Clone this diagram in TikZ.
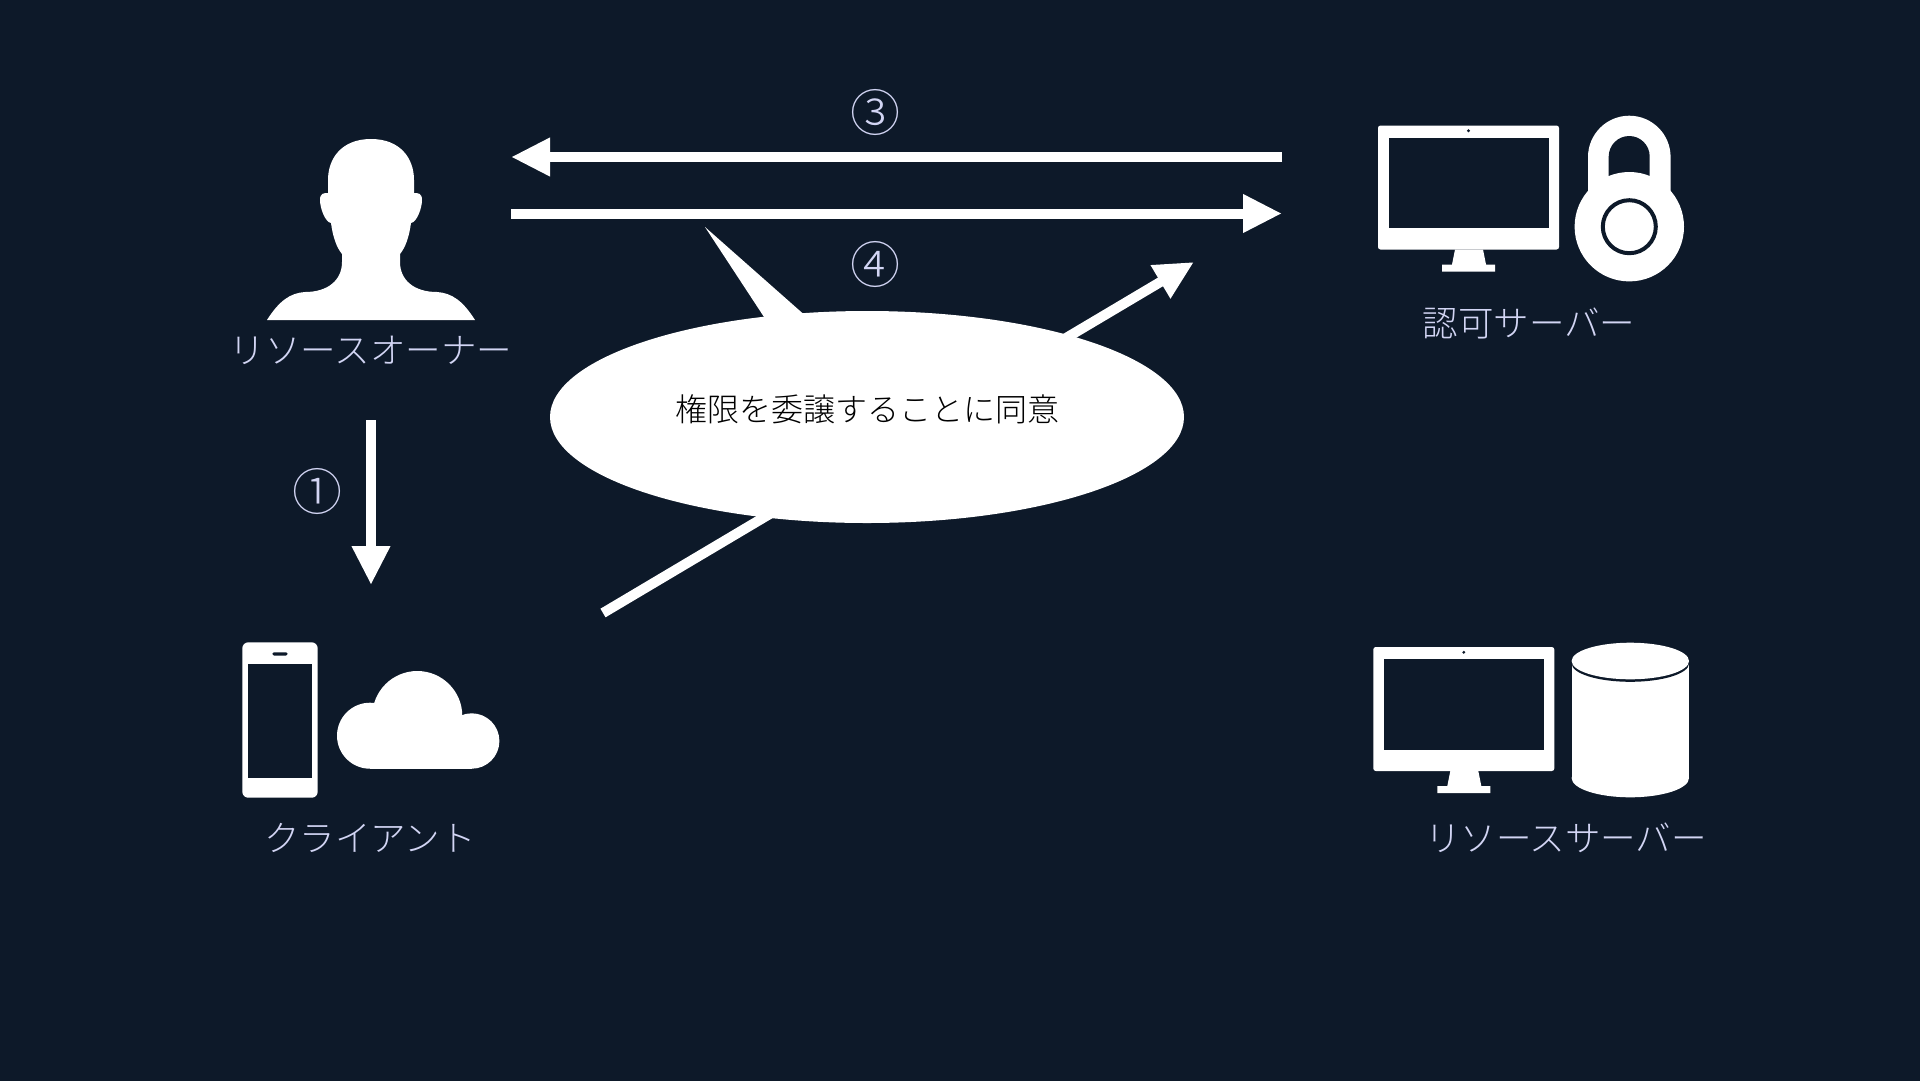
\documentclass[tikz,border=0pt]{standalone}
\usepackage{fontspec}
\usepackage{xcolor}
\usepackage{tikz}
\usetikzlibrary{positioning, arrows.meta, shapes.geometric}
\newfontfamily\jpfont[UprightFont=* Light]{Noto Sans CJK JP}
\definecolor{bgnavy}{HTML}{0D1929}
\definecolor{labelblue}{HTML}{D2D5F4}

\tikzset{
    monitor/.pic = {
        \fill[white, rounded corners=2.5pt] (0,0) rectangle (181,124);
        \fill[bgnavy] (11,12) rectangle (171,102.5);
        \fill[bgnavy] (90.5,5.3) circle (1.6);
        \fill[white] (77,124) -- (105,124) -- (108,139) -- (117,139) -- (117,146) -- (64,146) -- (64,139) -- (74,139) -- cycle;
    }
}

\begin{document}
\begin{tikzpicture}[
        x = 1pt,
        y = -1pt,
        every node/.style = {inner sep = 0, align = center, font = \jpfont},
        caption/.style = {text = labelblue, font = \jpfont\fontsize{35.5}{42}\selectfont},
        stepmark/.style = {text = labelblue, font = \jpfont\fontsize{50}{60}\selectfont},
        bubble/.style = {
            ellipse,
            fill = white,
            minimum width = 634pt,
            minimum height = 212pt,
            text = black,
            font = \jpfont\fontsize{32}{38}\selectfont
        },
        flow/.style = {
            white,
            line width = 10pt,
            -{Triangle[length=39pt, width=36pt]}
        }
    ]
        \useasboundingbox (0,0) rectangle (1920,1080);
        \fill[bgnavy] (-4,-4) rectangle (1924,1084);

        % resource owner
        \fill[white] (371,139)
            .. controls (342,139) and (328,158) .. (328,180) -- (328,193)
            .. controls (324,193) and (320,193) .. (320,200)
            .. controls (320,208) and (325,222) .. (331,223)
            .. controls (333,238) and (337,248) .. (342,254) -- (342,262)
            .. controls (342,280) and (328,292) .. (305,292)
            .. controls (290,293) and (279,301) .. (267,320)
            -- (475,320)
            .. controls (463,301) and (452,293) .. (437,292)
            .. controls (414,292) and (400,280) .. (400,262) -- (400,254)
            .. controls (405,248) and (409,238) .. (411,223)
            .. controls (417,222) and (422,208) .. (422,200)
            .. controls (422,193) and (418,193) .. (414,193) -- (414,180)
            .. controls (414,158) and (400,139) .. (371,139) -- cycle;
        \node[caption] (owner) at (371,350) {リソースオーナー};

        % authorization server
        \pic at (1378,125.5) {monitor};
        \fill[white] (1588,235) -- (1588,157) arc[start angle=180, end angle=360, radius=41.3] -- (1670.6,235) -- cycle;
        \fill[bgnavy] (1608.7,180) -- (1608.7,156.5) arc[start angle=180, end angle=360, radius=20.5] -- (1649.7,180) -- cycle;
        \fill[white] (1629.3,226.7) circle (54.7);
        \draw[bgnavy, line width=4pt] (1629.3,226.7) circle (26.5);
        \node[caption] (authsrv) at (1529,323) {認可サーバー};

        % client
        \fill[white, rounded corners=6pt] (242.3,642.3) rectangle (317.7,797.7);
        \fill[bgnavy] (247.7,663.7) rectangle (312.3,778.3);
        \fill[bgnavy, rounded corners=1.5pt] (272.3,652.3) rectangle (287.7,655.5);
        \fill[white] (417.3,716) circle (45);
        \fill[white] (370,735.7) circle (33);
        \fill[white] (471.7,741) circle (27.7);
        \fill[white] (370,720) rectangle (471.7,768.7);
        \node[caption] (client) at (370,837.5) {クライアント};

        % resource server
        \pic at (1373.3,647) {monitor};
        \fill[white] (1571.7,661) rectangle (1689,778);
        \fill[white] (1630.3,778) ellipse[x radius=58.7, y radius=19.3];
        \fill[bgnavy] (1630.3,663.5) ellipse[x radius=58.7, y radius=18.3];
        \fill[white] (1630.3,661) ellipse[x radius=58.7, y radius=18.3];
        \node[caption] (resource) at (1566,837.5) {リソースサーバー};

        % arrows
        \coordinate (a1s) at (371,420);
        \coordinate (a1e) at (371,585);
        \coordinate (a3s) at (1282,157);
        \coordinate (a3e) at (511,157);
        \coordinate (a4s) at (511,213.5);
        \coordinate (a4e) at (1282,213.5);
        \coordinate (a5s) at (603,613);
        \coordinate (a5e) at (1194,262);
        \draw[flow] (a1s) -- (a1e);
        \draw[flow] (a3s) -- (a3e);
        \draw[flow] (a4s) -- (a4e);
        \draw[flow] (a5s) -- (a5e);

        \node[stepmark] (mark1) at (317.5,491) {①};
        \node[stepmark] (mark3) at (875.5,112.5) {③};
        \node[stepmark] (mark4) at (875.5,264.5) {④};

        % speech bubble
        \coordinate (tailtip) at (705,227);
        \fill[white] (tailtip) -- (766,320) -- (808,318) -- cycle;
        \node[bubble] (consent) at (867,417) {\raisebox{-4pt}[0pt][0pt]{権限を委譲することに同意}};
\end{tikzpicture}
\end{document}
